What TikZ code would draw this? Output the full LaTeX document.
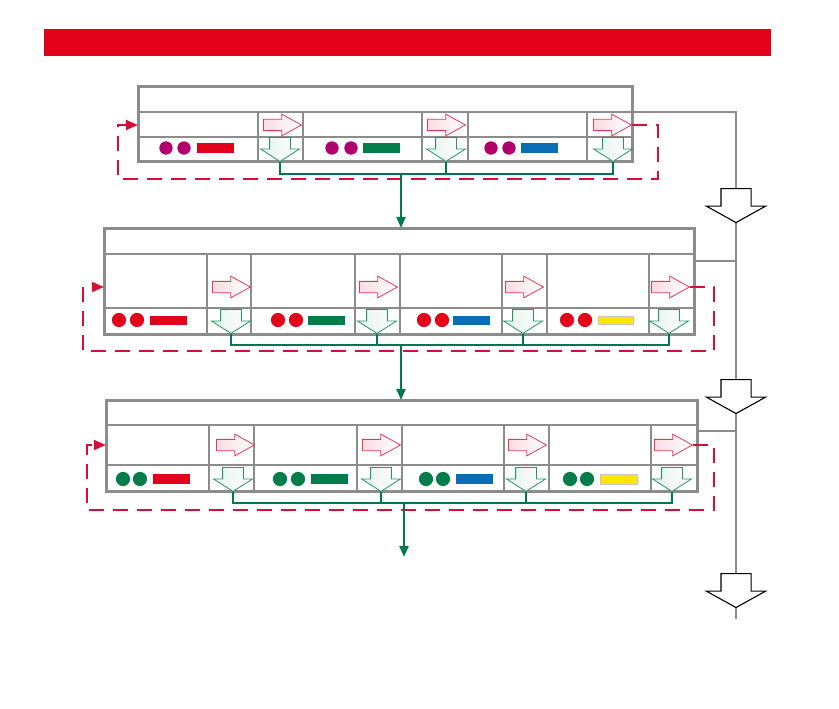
\documentclass[tikz,border=0pt]{standalone}
\usetikzlibrary{shapes.arrows,arrows.meta,calc}
\definecolor{hdr}{RGB}{226,0,26}
\definecolor{gframe}{RGB}{140,140,140}
\definecolor{dgreen}{RGB}{0,120,76}
\definecolor{lred}{RGB}{210,16,58}
\definecolor{arred}{RGB}{222,60,90}
\definecolor{argreen}{RGB}{40,150,100}
\definecolor{magen}{RGB}{176,0,110}
\definecolor{cred}{RGB}{226,0,26}
\definecolor{cgreen}{RGB}{0,125,75}
\definecolor{cblue}{RGB}{10,110,180}
\definecolor{cyellow}{RGB}{255,230,0}
\begin{document}
\begin{tikzpicture}[x=1pt,y=-1pt,
  frame/.style={draw=gframe,line width=2.2pt,inner sep=0pt,fill=white},
  grid/.style={draw=gframe,line width=1.1pt},
  rarr/.style={single arrow,draw=arred,line width=0.8pt,inner xsep=0pt,inner ysep=5.25pt,
    minimum height=38pt,minimum width=21pt,single arrow head extend=5.25pt,
    single arrow tip angle=58,left color=arred!18,right color=white,anchor=tail},
  darr/.style={single arrow,draw=argreen,line width=0.8pt,inner xsep=0pt,inner ysep=10pt,
    minimum height=24pt,minimum width=38pt,single arrow head extend=9pt,
    single arrow tip angle=115,rotate=-90,left color=argreen!12,right color=white,anchor=tail},
  bigarr/.style={single arrow,draw=black,line width=1.1pt,inner xsep=0pt,inner ysep=14.5pt,fill=white,
    minimum height=34pt,minimum width=58pt,single arrow head extend=14.5pt,
    single arrow tip angle=122,rotate=-90,anchor=tail},
  loopst/.style={draw=lred,line width=2pt,dash pattern=on 15pt off 9pt,
    -{Triangle[length=12pt,width=10pt]}},
  bus/.style={draw=dgreen,line width=2pt},
  drop/.style={draw=dgreen,line width=2pt,-{Triangle[length=11pt,width=9pt]}},
  gline/.style={draw=gframe,line width=2pt}]
\useasboundingbox (0,0) rectangle (839,709);
% header bar
\node[fill=hdr,inner sep=0pt,minimum width=727pt,minimum height=27pt] (title) at (407.5,42.5) {};

% ---------------- box 1 ----------------
\node[frame,minimum width=493pt,minimum height=74pt] (b1) at (385.5,124) {};
\draw[grid] (139,112) -- (632,112) (139,137) -- (632,137);
\foreach \x in {258,303,422,468,587} \draw[grid] (\x,112) -- (\x,161);
\draw[line width=2.2pt,draw=gframe] (b1.north west) rectangle (b1.south east);
\node[rarr] (a11) at (263,125) {};
\node[rarr] (a12) at (427,125) {};
\node[rarr] (a13) at (593,125) {};
\node[darr] (d11) at (280,137) {};
\node[darr] (d12) at (446,137) {};
\node[darr] (d13) at (613,137) {};
\fill[magen] (166,148) circle (6.7) (184,148) circle (6.7);
\fill[cred] (197,143) rectangle (234,153);
\fill[magen] (332,148) circle (6.7) (351,148) circle (6.7);
\fill[cgreen] (363,143) rectangle (400,153);
\fill[magen] (491,148) circle (6.7) (509,148) circle (6.7);
\fill[cblue] (521,143) rectangle (558,153);

% ---------------- box 2 ----------------
\node[frame,minimum width=589pt,minimum height=105pt] (b2) at (399.5,281.5) {};
\draw[grid] (105,254) -- (694,254) (105,308) -- (694,308);
\foreach \x in {207,251,355,400,502,547,649} \draw[grid] (\x,254) -- (\x,334);
\draw[line width=2.2pt,draw=gframe] (b2.north west) rectangle (b2.south east);
\node[rarr] (a21) at (212,287) {};
\node[rarr] (a22) at (359,287) {};
\node[rarr] (a23) at (505,287) {};
\node[rarr] (a24) at (651,287) {};
\node[darr] (d21) at (231,309) {};
\node[darr] (d22) at (377,309) {};
\node[darr] (d23) at (523,309) {};
\node[darr] (d24) at (669,309) {};
\fill[cred] (119,320) circle (7.1) (137,320) circle (7.1);
\fill[cred] (150,316) rectangle (187,324.5);
\fill[cred] (278,320) circle (7.1) (296,320) circle (7.1);
\fill[cgreen] (308,316) rectangle (345,324.5);
\fill[cred] (424,320) circle (7.1) (442,320) circle (7.1);
\fill[cblue] (453,316) rectangle (490,324.5);
\fill[cred] (567,320) circle (7.1) (585,320) circle (7.1);
\filldraw[fill=cyellow,draw=gray!45,line width=0.8pt] (598,316) rectangle (633,324.5);

% ---------------- box 3 ----------------
\node[frame,minimum width=590pt,minimum height=90pt] (b3) at (402,446) {};
\draw[grid] (107,425) -- (697,425) (107,465) -- (697,465);
\foreach \x in {209,254,357,402,504,549,651} \draw[grid] (\x,425) -- (\x,491);
\draw[line width=2.2pt,draw=gframe] (b3.north west) rectangle (b3.south east);
\node[rarr] (a31) at (216,445) {};
\node[rarr] (a32) at (362,445) {};
\node[rarr] (a33) at (508,445) {};
\node[rarr] (a34) at (654,445) {};
\node[darr] (d31) at (233,467) {};
\node[darr] (d32) at (381,467) {};
\node[darr] (d33) at (526,467) {};
\node[darr] (d34) at (672,467) {};
\fill[cgreen] (123,479) circle (7.1) (140,479) circle (7.1);
\fill[cred] (153,474) rectangle (190,484);
\fill[cgreen] (280,479) circle (7.1) (298,479) circle (7.1);
\fill[cgreen] (311,474) rectangle (348,484);
\fill[cgreen] (426,479) circle (7.1) (443,479) circle (7.1);
\fill[cblue] (456,474) rectangle (493,484);
\fill[cgreen] (570,479) circle (7.1) (587,479) circle (7.1);
\filldraw[fill=cyellow,draw=gray!45,line width=0.8pt] (600,474) rectangle (637,484);

% ---------------- big arrows on the right ----------------
\node[bigarr] (A1) at (736,188) {};
\node[bigarr] (A2) at (736,379) {};
\node[bigarr] (A3) at (736,573) {};
\coordinate (h1) at (632,112);
\coordinate (h2) at (694,261);
\coordinate (h3) at (697,431);
\draw[gline] (h1) -| (A1.tail);
\draw[gline] (A1.tip) -- (A2.tail);
\draw[gline] (A2.tip) -- (A3.tail);
\draw[gline] (A3.tip) -- ++(0,11);
\draw[gline] (h2) -- (h2 -| A1.tip);
\draw[gline] (h3) -- (h3 -| A1.tip);

% ---------------- red dashed feedback loops ----------------
\draw[loopst] (a13.tip) -- ++(26,0) |- (118,179) |- (b1.west |- a11.tail);
\draw[loopst] (a24.tip) -- ++(24,0) |- (83,351) |- (b2.west |- a21.tail);
\draw[loopst] (a34.tip) -- ++(21,0) |- (87,510) |- (b3.west |- a31.tail);

% ---------------- green collectors ----------------
\draw[bus] (d11.tip) -- ++(0,12) -| (d13.tip);
\draw[bus] (d12.tip) -- ++(0,12);
\coordinate (j1) at (401,173);
\draw[drop] (j1) -- (j1 |- b2.north);

\draw[bus] (d21.tip) -- ++(0,11) -| (d24.tip);
\draw[bus] (d22.tip) -- ++(0,11);
\draw[bus] (d23.tip) -- ++(0,11);
\coordinate (j2) at (401,344);
\draw[drop] (j2) -- (j2 |- b3.north);

\draw[bus] (d31.tip) -- ++(0,11) -| (d34.tip);
\draw[bus] (d32.tip) -- ++(0,11);
\draw[bus] (d33.tip) -- ++(0,11);
\coordinate (j3) at (404,502);
\coordinate (e3) at (404,557);
\draw[drop] (j3) -- (e3);
\end{tikzpicture}
\end{document}
